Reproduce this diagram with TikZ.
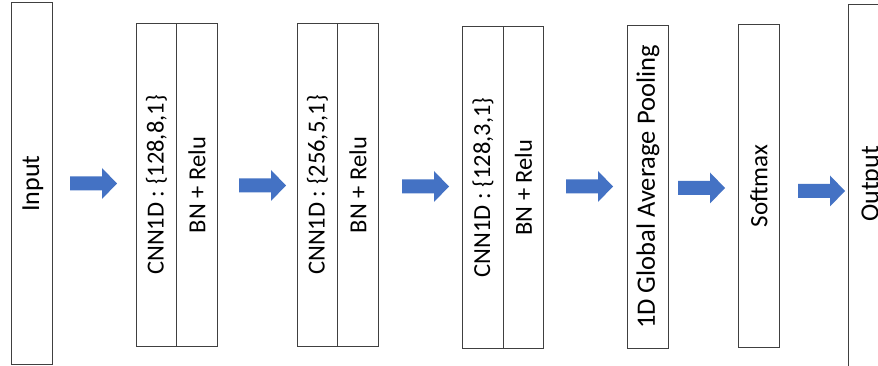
\documentclass[tikz,border=0pt]{standalone}
\usepackage{fontspec}
\setmainfont{Carlito}
\definecolor{arrowblue}{HTML}{4472C4}
\definecolor{boxline}{HTML}{404040}
\newcommand\barrow[3]{% x1, x2, yc
  \fill[arrowblue] (#1,#3-7) -- (#2-15,#3-7) -- (#2-15,#3-15.5) -- (#2,#3) -- (#2-15,#3+15.5) -- (#2-15,#3+7) -- (#1,#3+7) -- cycle;}
\begin{document}
\begin{tikzpicture}[x=1pt,y=1pt,
  box/.style={draw=boxline, line width=0.9pt, fill=white, inner sep=0pt, anchor=south west},
  lbl/.style={rotate=90, font=\fontsize{24.5}{28}\selectfont, inner sep=0pt},
  big/.style={font=\fontsize{26}{30}\selectfont}]
\clip (0,0) rectangle (878,366);
\fill[white] (0,0) rectangle (878,366);
% Input
\node[box, minimum width=41pt, minimum height=362pt] (in) at (11,1) {};
\node[lbl, big] (inT) at ([xshift=1pt]in.center) {Input};
% CNN block 1
\node[box, minimum width=40pt, minimum height=323pt] (c1a) at (136,19) {};
\node[box, minimum width=41pt, minimum height=323pt] (c1b) at (176,19) {};
\node[lbl] at (c1a.center) {CNN1D : \{128,8,1\}};
\node[lbl] at (c1b.center) {BN + Relu};
% CNN block 2
\node[box, minimum width=40pt, minimum height=323pt] (c2a) at (297,19) {};
\node[box, minimum width=41pt, minimum height=323pt] (c2b) at (337,19) {};
\node[lbl] at (c2a.center) {CNN1D : \{256,5,1\}};
\node[lbl] at (c2b.center) {BN + Relu};
% CNN block 3
\node[box, minimum width=41pt, minimum height=322pt] (c3a) at (462,17) {};
\node[box, minimum width=40pt, minimum height=322pt] (c3b) at (503,17) {};
\node[lbl] at (c3a.center) {CNN1D : \{128,3,1\}};
\node[lbl] at (c3b.center) {BN + Relu};
% GAP
\node[box, minimum width=41pt, minimum height=323pt] (gap) at (627,17) {};
\node[lbl, font=\fontsize{26.5}{30}\selectfont] at (gap.center) {1D Global Average Pooling};
% Softmax
\node[box, minimum width=41pt, minimum height=323pt] (sm) at (738,18) {};
\node[lbl, font=\fontsize{25}{30}\selectfont] at (sm.center) {Softmax};
% Output
\node[box, minimum width=60pt, minimum height=366pt] (out) at (848,-5) {};
\node[lbl, big] at (872,182) {Output};
% arrows
\barrow{70}{117}{182.5}
\barrow{239}{286}{180.5}
\barrow{402}{449}{179.5}
\barrow{566}{613}{179.5}
\barrow{678}{725}{178}
\barrow{798}{845}{175}
\end{tikzpicture}
\end{document}
